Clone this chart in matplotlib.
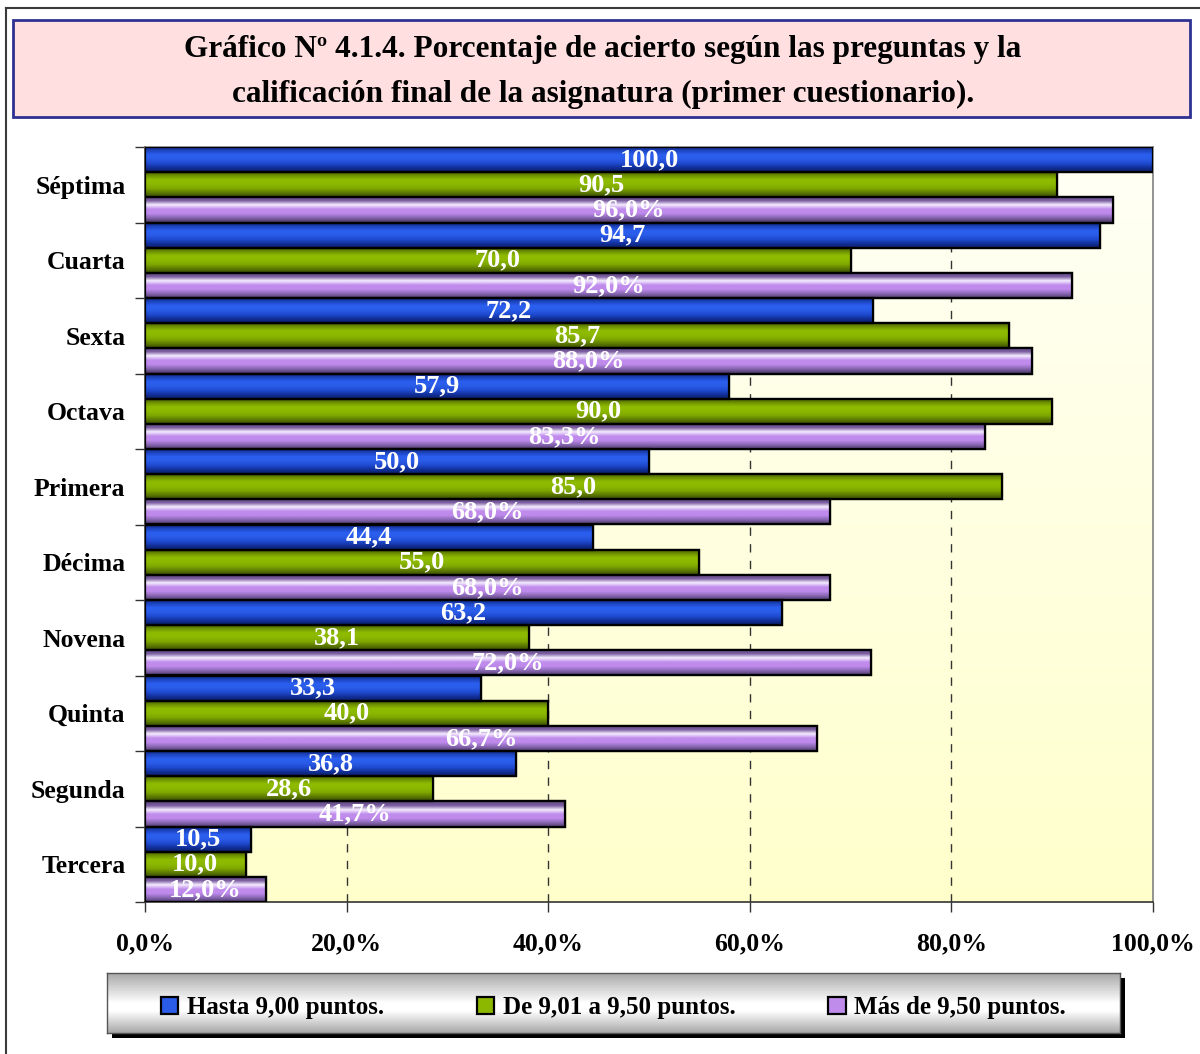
import numpy as np
import matplotlib
matplotlib.use("Agg")
import matplotlib.pyplot as plt
from matplotlib.colors import LinearSegmentedColormap
from matplotlib.patches import Rectangle

plt.rcParams['font.family'] = ['Liberation Serif', 'DejaVu Serif']
plt.rcParams['font.weight'] = 'bold'

TITLE_1 = "Gráfico Nº 4.1.4. Porcentaje de acierto según las preguntas y la"
TITLE_2 = "calificación final de la asignatura (primer cuestionario)."

preguntas = ["Séptima", "Cuarta", "Sexta", "Octava", "Primera",
             "Décima", "Novena", "Quinta", "Segunda", "Tercera"]

series_names = ["Hasta 9,00 puntos.", "De 9,01 a 9,50 puntos.", "Más de 9,50 puntos."]
hasta_900 = [100.0, 94.7, 72.2, 57.9, 50.0, 44.4, 63.2, 33.3, 36.8, 10.5]
de_901_950 = [90.5, 70.0, 85.7, 90.0, 85.0, 55.0, 38.1, 40.0, 28.6, 10.0]
mas_950 = [96.0, 92.0, 88.0, 83.3, 68.0, 68.0, 72.0, 66.7, 41.7, 12.0]

x_ticks = [0, 20, 40, 60, 80, 100]

# shading of each series, top to bottom of the bar
SHADES = [
    ["#0c2070", "#1d45c0", "#2b5ff0", "#2a5ce8", "#1f4bd0", "#12309a", "#0a1e66"],
    ["#3a4c00", "#6f9200", "#8fbc00", "#8cb800", "#7fa800", "#5e7c00", "#3a4c00"],
    ["#5e4880", "#7a5ca0", "#f4ecff", "#c08cec", "#bf8aec", "#8a68b4", "#4e3a6a"],
]
MAIN = ["#2b5ce8", "#8cb800", "#c08cec"]


def fmt(v, pct=False):
    s = f"{v:.1f}".replace(".", ",")
    return s + "%" if pct else s


fig = plt.figure(figsize=(12, 10.54), dpi=100)
W, H = 1200, 1054

# outer frame
fig.add_artist(plt.Line2D([6 / W, 1], [1 - 8 / H, 1 - 8 / H], transform=fig.transFigure,
                          color="#3a3a3a", lw=1.5))
fig.add_artist(plt.Line2D([6 / W, 6 / W], [0, 1 - 8 / H], transform=fig.transFigure,
                          color="#3a3a3a", lw=1.5))

# title box
fig.add_artist(Rectangle((13 / W, 1 - 117 / H), 1177 / W, 97 / H, transform=fig.transFigure,
                         facecolor="#ffdfe0", edgecolor="#2e3192", lw=2))
fig.text(603 / W, 1 - 50 / H, TITLE_1, ha="center", va="center", fontsize=22.5,
         fontweight="bold")
fig.text(603 / W, 1 - 94 / H, TITLE_2, ha="center", va="center", fontsize=22.5,
         fontweight="bold")

ax = fig.add_axes([145 / W, 1 - 902 / H, 1008 / W, 755 / H])

# plot area background
bg = np.linspace(0, 1, 256).reshape(-1, 1)
bg_cmap = LinearSegmentedColormap.from_list("bg", ["#fffff6", "#ffffcc"])
ax.imshow(bg, cmap=bg_cmap, extent=[0, 1, 0, 1], transform=ax.transAxes,
          aspect="auto", zorder=0, origin="upper")

y = np.arange(len(preguntas))
h = 1 / 3
all_series = [hasta_900, de_901_950, mas_950]
grad = np.linspace(0, 1, 64).reshape(-1, 1)
for k, vals in enumerate(all_series):
    offs = (k - 1) * h
    bars = ax.barh(y + offs, vals, height=h, color=MAIN[k], edgecolor="black",
                   lw=1.6, zorder=3, label=series_names[k])
    cmap = LinearSegmentedColormap.from_list(f"s{k}", SHADES[k])
    for b in bars:
        bx, by = b.get_x(), b.get_y()
        bw, bh = b.get_width(), b.get_height()
        im = ax.imshow(grad, cmap=cmap, extent=[bx, bx + bw, by + bh, by],
                       aspect="auto", zorder=3.5, origin="upper")
        im.set_clip_path(b)
        ax.add_patch(Rectangle((bx, by), bw, bh, fill=False, edgecolor="black",
                               lw=1.6, zorder=3.6))
    ax.bar_label(bars, labels=[fmt(v, k == 2) for v in vals], label_type="center",
                 color="white", fontsize=19, fontweight="bold", zorder=5)

ax.set_xlim(0, 100)
ax.set_ylim(len(preguntas) - 0.5, -0.5)

for xv in x_ticks[1:-1]:
    ax.axvline(xv, color="#333333", lw=1, ls=(0, (6, 6)), zorder=1)

ax.set_xticks(x_ticks)
ax.set_xticklabels([fmt(v, True) for v in x_ticks], fontsize=18.5, fontweight="bold")
ax.tick_params(axis="x", length=7, width=1, direction="out", pad=15, color="#333333")

ax.set_yticks(y)
ax.set_yticklabels(preguntas, fontsize=18.5, fontweight="bold")
ax.set_yticks(np.arange(len(preguntas) + 1) - 0.5, minor=True)
ax.tick_params(axis="y", which="major", length=0, pad=14)
ax.tick_params(axis="y", which="minor", length=7, width=1, color="#333333")

for s in ax.spines.values():
    s.set_color("#808080")
    s.set_linewidth(1.2)
ax.spines["left"].set_color("#333333")
ax.spines["bottom"].set_color("#333333")

# legend box with shadow and gradient
lx, ly, lw_, lh = 107, 973, 1013, 60
fig.add_artist(Rectangle(((lx + 5) / W, 1 - (ly + lh + 5) / H), lw_ / W, lh / H,
                         transform=fig.transFigure, facecolor="black", edgecolor="none",
                         zorder=0))
lax = fig.add_axes([lx / W, 1 - (ly + lh) / H, lw_ / W, lh / H])
lax.set_zorder(5)
lg = np.concatenate([np.linspace(0, 1, 40), np.linspace(1, 1, 10), np.linspace(1, 0, 30)]).reshape(-1, 1)
lax.imshow(lg, cmap=LinearSegmentedColormap.from_list("lg", ["#a8a8a8", "#ffffff"]),
           aspect="auto", extent=[0, 1, 0, 1], origin="upper")
lax.set_xticks([])
lax.set_yticks([])
for s in lax.spines.values():
    s.set_color("#555555")
    s.set_linewidth(1)

handles, labels = ax.get_legend_handles_labels()
leg = lax.legend(handles, labels, loc="center", bbox_to_anchor=(0.5, 0.42), ncol=3,
                 frameon=False, fontsize=18, handlelength=0.7, handleheight=0.7,
                 handletextpad=0.35, columnspacing=3.7)
for t in leg.get_texts():
    t.set_fontweight("bold")

fig.savefig("out.png", dpi=100)
